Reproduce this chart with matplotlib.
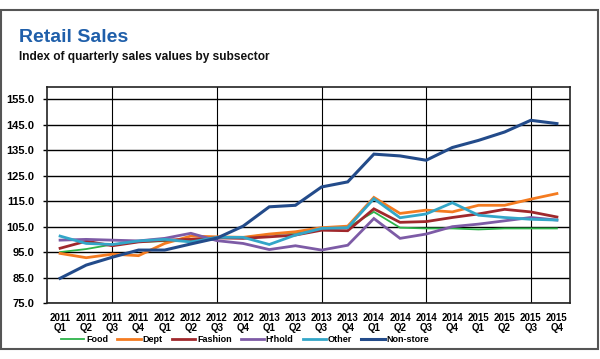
import matplotlib.pyplot as plt
from matplotlib.patches import Rectangle

# Valores (índice de ventas trimestrales)
quarters = ['Q1', 'Q2', 'Q3', 'Q4'] * 5
years = ['2011'] * 4 + ['2012'] * 4 + ['2013'] * 4 + ['2014'] * 4 + ['2015'] * 4
food = [95.0, 96.2, 98.0, 99.0, 99.3, 99.3, 100.8, 100.8, 102.0, 102.6,
        104.3, 104.7, 110.8, 104.6, 104.3, 104.3, 103.9, 104.3, 104.3, 104.3]
dept = [94.5, 92.8, 94.2, 93.6, 98.4, 101.3, 101.0, 100.8, 102.1, 103.0,
        104.6, 105.2, 116.5, 110.2, 111.5, 110.8, 113.4, 113.4, 115.8, 118.0]
fashion = [96.5, 99.3, 97.5, 99.0, 99.7, 100.0, 100.6, 100.4, 101.0, 101.7,
           103.6, 103.4, 112.0, 106.7, 107.0, 108.6, 110.0, 111.8, 110.8, 108.8]
hhold = [99.7, 100.0, 99.7, 99.4, 100.4, 102.4, 99.5, 98.4, 96.0, 97.5,
         95.8, 97.7, 108.2, 100.4, 102.1, 105.0, 106.0, 107.3, 108.6, 107.6]
other = [101.3, 98.4, 98.0, 99.4, 100.0, 99.0, 100.8, 100.8, 98.0, 101.7,
         104.3, 104.6, 116.0, 108.5, 110.0, 114.4, 109.5, 108.6, 107.9, 107.6]
nonstore = [84.7, 89.9, 93.0, 95.8, 95.8, 98.2, 100.5, 105.2, 112.8, 113.4,
            120.6, 122.6, 133.5, 132.8, 131.1, 136.1, 138.9, 142.2, 146.8, 145.5]
yticks = [75, 85, 95, 105, 115, 125, 135, 145, 155]

series = [
    ('Food', food, '#2DB34A', 1.3),
    ('Dept', dept, '#F47B20', 2.0),
    ('Fashion', fashion, '#A0282C', 2.0),
    ("H'hold", hhold, '#7D5BA6', 2.0),
    ('Other', other, '#33A6C8', 2.0),
    ('Non-store', nonstore, '#234B8A', 2.2),
]

fig = plt.figure(figsize=(6, 3.59), dpi=100)
ax = fig.add_axes([47 / 600, 1 - 303 / 359, 523 / 600, (303 - 86.7) / 359])

x = list(range(len(quarters)))
for name, vals, col, lw in series:
    ax.plot(x, vals, color=col, lw=lw, label=name, zorder=3, solid_joinstyle='miter')

# líneas verticales en cada Q3
for i, q in enumerate(quarters):
    if q == 'Q3':
        ax.axvline(i, color='black', lw=0.8, zorder=1)

ax.set_xlim(-0.5, len(quarters) - 0.5)
ax.set_ylim(75, 160)
ax.set_yticks(yticks)
ax.set_yticklabels([f'{v:.1f}' for v in yticks], fontsize=8, fontweight='bold',
                   family='Liberation Sans')
ax.set_xticks(x)
ax.set_xticklabels([f'{y}\n{q}' for y, q in zip(years, quarters)], fontsize=7,
                   fontweight='bold', family='Liberation Sans', linespacing=1.05)
ax.tick_params(axis='x', length=0, pad=7)
ax.tick_params(axis='y', length=3, width=1, pad=6)
ax.grid(axis='y', color='black', lw=1, zorder=1)
for s in ax.spines.values():
    s.set_color('#222222')
    s.set_linewidth(1.2)

fig.legend(loc='center', bbox_to_anchor=(245 / 600, 1 - 340 / 359), ncol=6,
           frameon=False, handlelength=2.6, handletextpad=0.2, columnspacing=1.0,
           prop={'family': 'Liberation Sans', 'weight': 'bold', 'size': 6.5})

fig.text(19 / 600, 1 - 42 / 359, 'Retail Sales', fontsize=14, fontweight='bold',
         color='#1F5FAA', family='Liberation Sans', va='baseline')
fig.text(19 / 600, 1 - 60 / 359, 'Index of quarterly sales values by subsector',
         fontsize=8.6, fontweight='bold', color='#111111', family='Liberation Sans',
         va='baseline')

# marco exterior
fig.patches.append(Rectangle((1 / 600, 1 - 349 / 359), 597 / 600, 339 / 359,
                             transform=fig.transFigure, fill=False,
                             edgecolor='#555555', lw=1.5))

fig.savefig('out.png', dpi=100)
